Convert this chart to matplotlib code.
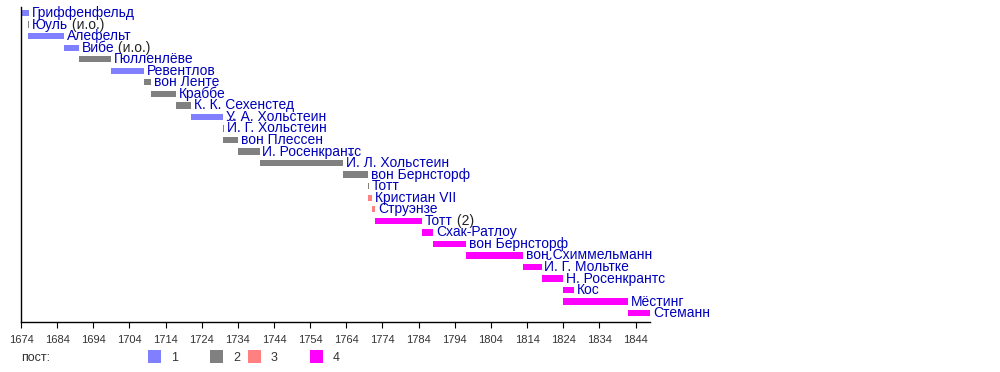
# Хронология: правители / премьеры Дании 1674-1848
import matplotlib.pyplot as plt
from matplotlib.patches import Rectangle

plt.rcParams['font.family'] = ['Liberation Sans', 'DejaVu Sans']

names = ['Гриффенфельд', 'Юуль', 'Алефельт', 'Вибе', 'Гюлленлёве', 'Ревентлов',
         'вон Ленте', 'Краббе', 'К. К. Сехенстед', 'У. А. Хольстеин', 'Й. Г. Хольстеин',
         'вон Плессен', 'И. Росенкрантс', 'Й. Л. Хольстеин', 'вон Бернсторф', 'Тотт',
         'Кристиан VII', 'Струэнзе', 'Тотт', 'Схак-Ратлоу', 'вон Бернсторф',
         'вон Схиммельманн', 'Й. Г. Мольтке', 'Н. Росенкрантс', 'Кос', 'Мёстинг', 'Стеманн']
suffixes = ['', ' (и.о.)', '', ' (и.о.)', '', '', '', '', '', '', '', '', '', '', '', '',
            '', '', ' (2)', '', '', '', '', '', '', '', '']
starts = [1674, 1676, 1676, 1686, 1690, 1699, 1708, 1710, 1717, 1721, 1730, 1730, 1734,
          1740, 1763, 1770, 1770, 1771, 1772, 1785, 1788, 1797, 1813, 1818, 1824, 1824, 1842]
ends = [1676.3, 1676.2, 1686, 1690, 1699, 1708, 1710, 1717, 1721, 1730, 1730.2, 1734, 1740,
        1763, 1770, 1770.2, 1771, 1772, 1785, 1788, 1797, 1813, 1818, 1824, 1827, 1842, 1848]
groups = [1, 2, 1, 1, 2, 1, 2, 2, 2, 1, 2, 2, 2, 2, 2, 2, 3, 3, 4, 4, 4, 4, 4, 4, 4, 4, 4]

colors = {1: '#8080ff', 2: '#808080', 3: '#ff8080', 4: '#ff00ff'}
years = list(range(1674, 1845, 10))

fig = plt.figure(figsize=(10, 3.72), dpi=100)
ax = fig.add_axes([0.021, 0.134, 0.629, 0.847])

n = len(names)
for i in range(n):
    ax.barh(i, ends[i] - starts[i], left=starts[i], height=0.55,
            color=colors[groups[i]], linewidth=0)
    t = ax.text(ends[i] + 0.8, i, names[i], color='#0000bb', fontsize=10,
                va='center', ha='left')
    if suffixes[i]:
        ax.annotate(suffixes[i], xy=(1, 0.5), xycoords=t, va='center', ha='left',
                    fontsize=10, color='#222222')

ax.set_xlim(1674, 1848)
ax.set_ylim(n - 0.22, -0.52)
ax.set_xticks(years)
ax.set_xticklabels([str(y) for y in years], fontsize=8, color='#333333')
ax.set_yticks([])
ax.tick_params(axis='x', length=4, width=0.8, pad=5)
for s in ['top', 'right']:
    ax.spines[s].set_visible(False)
for s in ['left', 'bottom']:
    ax.spines[s].set_linewidth(1.0)

# легенда
fig.text(0.021, 1 - 358 / 372, 'пост:', fontsize=9, color='#333333', va='center')
legend_x = [0.148, 0.210, 0.248, 0.310]
for g, lx in zip([1, 2, 3, 4], legend_x):
    fig.patches.append(Rectangle((lx, 1 - 363 / 372), 0.0127, 12.7 / 372,
                                 transform=fig.transFigure, color=colors[g],
                                 linewidth=0))
    fig.text(lx + 0.023, 1 - 358 / 372, str(g), fontsize=9, color='#333333',
             va='center')

fig.savefig('out.png', dpi=100)
